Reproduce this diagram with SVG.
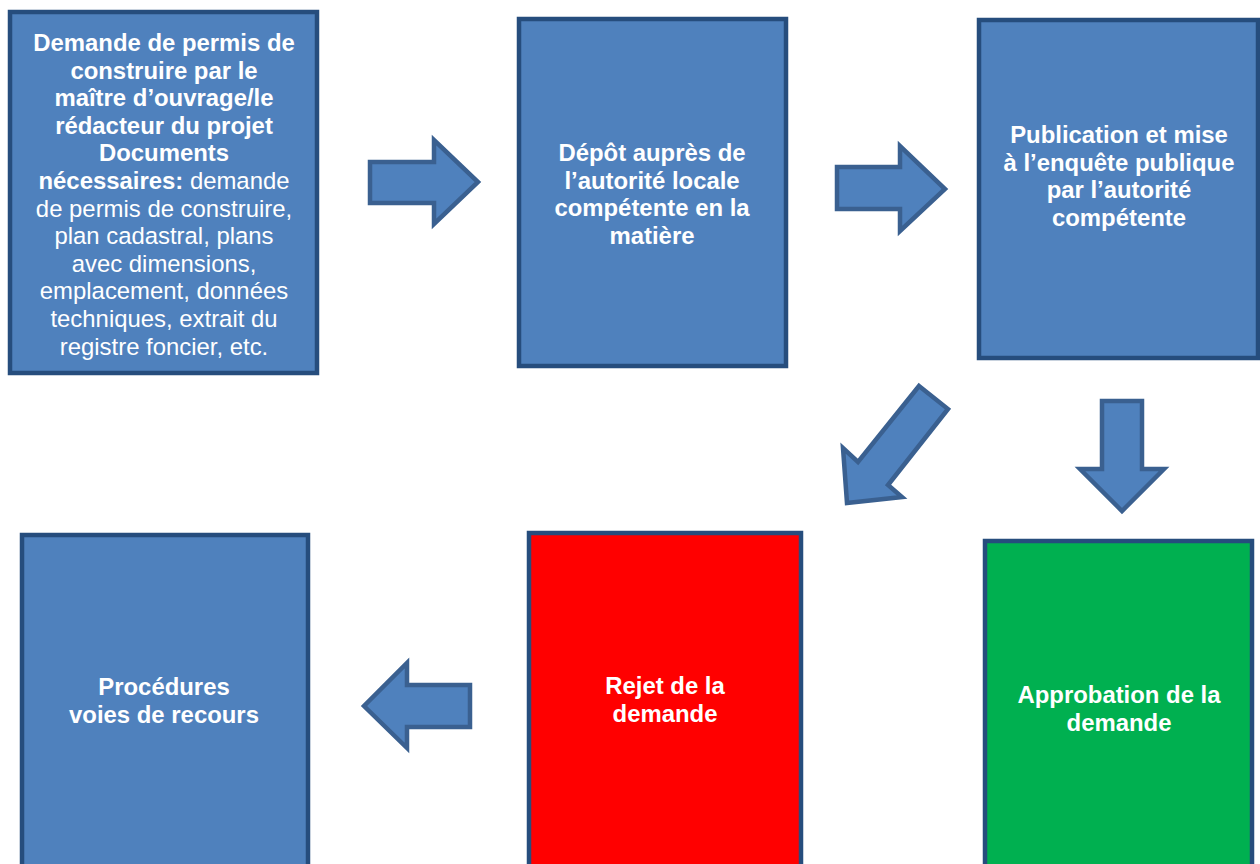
<svg xmlns="http://www.w3.org/2000/svg" width="1260" height="864" viewBox="0 0 1260 864">
<style>
.box{stroke:#264D7D;stroke-width:4.5}
.blue{fill:#4F81BD}
.red{fill:#FF0000}
.green{fill:#00B050}
.arr{fill:#4F81BD;stroke:#3A6090;stroke-width:4.5;stroke-linejoin:miter}
text{font-family:"Liberation Sans",Arial,sans-serif;font-size:23.9px;fill:#FFFFFF;text-anchor:middle}
.b{font-weight:bold}
</style>
<rect width="1260" height="864" fill="#FFFFFF"/>
<g id="connectors">
<path class="arr" d="M370,162 L434,162 L434,140 L478,182 L434,224 L434,203 L370,203 Z"/>
<path class="arr" d="M837,167 L900,167 L900,146 L945,189 L900,231 L900,209 L837,209 Z"/>
<path class="arr" d="M919,386 L948,409 L888,485 L902,497 L847,503 L843,448 L858,462 Z"/>
<path class="arr" d="M1102,401 L1142,401 L1142,469 L1164,469 L1122,511 L1080,469 L1102,469 Z"/>
<path class="arr" d="M470,685 L407,685 L407,663 L364,706 L407,748 L407,727 L470,727 Z"/>
</g>
<g id="node1">
<rect class="box blue" x="10" y="12" width="307" height="361"/>
<text class="b"><tspan x="164" y="51">Demande de permis de</tspan><tspan x="164" y="78.6">construire par le</tspan><tspan x="164" y="106.2">maître d’ouvrage/le</tspan><tspan x="164" y="133.8">rédacteur du projet</tspan><tspan x="164" y="161.4">Documents</tspan></text>
<text><tspan x="164" y="189"><tspan class="b">nécessaires:</tspan> demande</tspan><tspan x="164" y="216.6">de permis de construire,</tspan><tspan x="164" y="244.2">plan cadastral, plans</tspan><tspan x="164" y="271.8">avec dimensions,</tspan><tspan x="164" y="299.4">emplacement, données</tspan><tspan x="164" y="327">techniques, extrait du</tspan><tspan x="164" y="354.6">registre foncier, etc.</tspan></text>
</g>
<g id="node2">
<rect class="box blue" x="519" y="19" width="267" height="347"/>
<text class="b"><tspan x="652" y="161">Dépôt auprès de</tspan><tspan x="652" y="188.6">l’autorité locale</tspan><tspan x="652" y="216.2">compétente en la</tspan><tspan x="652" y="243.8">matière</tspan></text>
</g>
<g id="node3">
<rect class="box blue" x="979" y="20" width="279" height="338"/>
<text class="b"><tspan x="1119" y="143">Publication et mise</tspan><tspan x="1119" y="170.6">à l’enquête publique</tspan><tspan x="1119" y="198.2">par l’autorité</tspan><tspan x="1119" y="225.8">compétente</tspan></text>
</g>
<g id="node4">
<rect class="box blue" x="22" y="535" width="286" height="345"/>
<text class="b"><tspan x="164" y="695">Procédures</tspan><tspan x="164" y="722.6">voies de recours</tspan></text>
</g>
<g id="node5">
<rect class="box red" x="529" y="533" width="272" height="347"/>
<text class="b"><tspan x="665" y="694">Rejet de la</tspan><tspan x="665" y="721.6">demande</tspan></text>
</g>
<g id="node6">
<rect class="box green" x="985" y="541" width="267" height="339"/>
<text class="b"><tspan x="1119" y="703">Approbation de la</tspan><tspan x="1119" y="730.6">demande</tspan></text>
</g>
</svg>
